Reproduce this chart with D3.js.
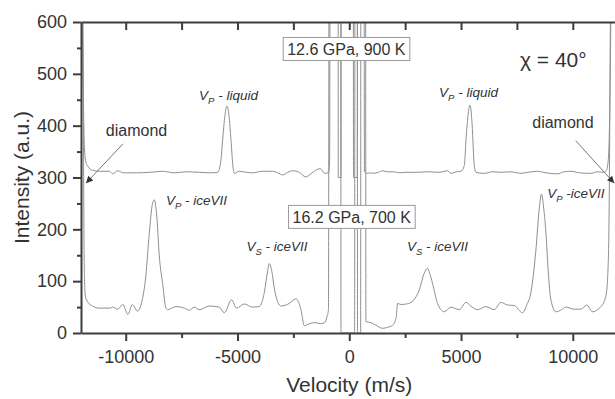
<!DOCTYPE html>
<html>
<head>
<meta charset="utf-8">
<script src="https://cdn.jsdelivr.net/npm/d3@7"></script>
<style>
  body { margin: 0; background: #fff; }
  svg { display: block; font-family: "Liberation Sans", Arial, sans-serif; }
</style>
</head>
<body>
<svg id="chart" width="615" height="399"></svg>
<script>
// spectra: [velocity m/s, intensity a.u.]
const spectrum900K = [
  [-12000, 900], [-11950, 700], [-11900, 480], [-11850, 360], [-11780, 330], [-11700, 322],
  [-11480, 314], [-11180, 312], [-10730, 312], [-10585, 307], [-10360, 313], [-10100, 309],
  [-9500, 309], [-8900, 310], [-8350, 312], [-7800, 309], [-7300, 311], [-6700, 310],
  [-6200, 309], [-5890, 310], [-5750, 330], [-5665, 372], [-5560, 420], [-5470, 438],
  [-5380, 420], [-5290, 372], [-5200, 320], [-5140, 308], [-4920, 312], [-4600, 310],
  [-4325, 309], [-3900, 312], [-3430, 312], [-3200, 309], [-2980, 305], [-2750, 310],
  [-2535, 313], [-2235, 310], [-1940, 301], [-1750, 306], [-1500, 314], [-1300, 317],
  [-1100, 308], [-920, 310], [-880, 330], [-850, 800], [-500, 800], [-490, 300],
  [-370, 300], [-360, 800], [180, 800], [190, 300], [360, 300], [370, 800], [660, 800],
  [680, 311], [800, 308], [900, 309], [1100, 308], [1300, 310], [1500, 313], [1700, 311],
  [2010, 311], [2235, 309], [2500, 310], [3000, 310], [3500, 311], [4000, 310], [4400, 313],
  [4550, 308], [4800, 311], [4995, 312], [5140, 322], [5250, 390], [5400, 440], [5500, 400],
  [5580, 330], [5665, 310], [6040, 308], [6400, 311], [6800, 310], [7200, 311], [7680, 308],
  [8000, 310], [8420, 312], [8800, 309], [9315, 307], [9600, 311], [9915, 312], [10300, 309],
  [10810, 308], [11100, 311], [11400, 310], [11500, 313], [11580, 330], [11650, 420],
  [11700, 600], [11750, 900], [12000, 900]
];

const spectrum700K = [
  [-12000, 900], [-11950, 800], [-11900, 500], [-11870, 200], [-11840, 100], [-11800, 70],
  [-11700, 60], [-11480, 52], [-11200, 48], [-10700, 48], [-10585, 50], [-10360, 46],
  [-10130, 55], [-9900, 36], [-9700, 55], [-9470, 42], [-9300, 57], [-9100, 110],
  [-8950, 190], [-8800, 250], [-8720, 257], [-8600, 220], [-8500, 150], [-8350, 96],
  [-8200, 48], [-8125, 45], [-7750, 51], [-7380, 48], [-7155, 44], [-6930, 50], [-6710, 45],
  [-6260, 52], [-5815, 50], [-5590, 39], [-5265, 64], [-5040, 48], [-4695, 56], [-4325, 50],
  [-4025, 51], [-3800, 78], [-3650, 120], [-3580, 134], [-3460, 118], [-3355, 87],
  [-3200, 60], [-3055, 52], [-2685, 57], [-2385, 66], [-2160, 45], [-2010, 14], [-1790, 18],
  [-1500, 20], [-1300, 18], [-1100, 20], [-1000, 31], [-930, 45], [-900, 800], [-380, 800],
  [-370, 0], [240, 0], [255, 800], [360, 800], [370, 0], [510, 0], [520, 800], [730, 800],
  [745, 22], [970, 20], [1195, 15], [1490, 9], [1715, 11], [1940, 15], [2100, 30],
  [2160, 57], [2310, 55], [2550, 56], [2760, 59], [3130, 83], [3350, 115], [3500, 125],
  [3600, 115], [3725, 96], [3950, 57], [4250, 41], [4550, 50], [4920, 45], [5220, 59],
  [5440, 52], [5740, 45], [6110, 51], [6485, 45], [6785, 59], [7080, 54], [7380, 53],
  [7750, 39], [7950, 55], [8125, 78], [8350, 160], [8500, 240], [8600, 268], [8700, 240],
  [8800, 193], [8900, 120], [9020, 64], [9245, 41], [9500, 45], [9690, 50], [10060, 46],
  [10360, 46], [10630, 54], [10880, 41], [11255, 51], [11480, 71], [11580, 128],
  [11630, 257], [11680, 600], [11720, 900], [12000, 900]
];

const xMajorTicks = [-10000, -5000, 0, 5000, 10000];
const xMinorTicks = [-7500, -2500, 2500, 7500];
const yMajorTicks = [0, 100, 200, 300, 400, 500, 600];
const yMinorTicks = [50, 150, 250, 350, 450, 550];

// annotations, in data coordinates
const conditionLabels = [
  { text: "12.6 GPa, 900 K", v: -130, i: 548 },
  { text: "16.2 GPa, 700 K", v: 110, i: 224 }
];
const peakLabels = [
  { main: "V", sub: "P", rest: " - liquid", v: -5400, i: 449 },
  { main: "V", sub: "P", rest: " - liquid", v: 5335, i: 455 },
  { main: "V", sub: "P", rest: " - iceVII", v: -6830, i: 246 },
  { main: "V", sub: "S", rest: " - iceVII", v: -3230, i: 158 },
  { main: "V", sub: "S", rest: " - iceVII", v: 3950, i: 158 },
  { main: "V", sub: "P", rest: " -iceVII", v: 10140, i: 260 }
];
const diamondLabels = [
  { v: -9515, i: 380, from: [-10120, 365], to: [-11776, 289] },
  { v: 9560, i: 395, from: [10130, 371], to: [11855, 289] }
];

const svg = d3.select("#chart");
const margin = { left: 81, top: 22, bottom: 333, right: 617.5 };

const x = d3.scaleLinear().domain([-12000, 12000]).range([margin.left, margin.right]);
const y = d3.scaleLinear().domain([0, 600]).range([margin.bottom, margin.top]);

const axisColor = "#3d3d3d";
const textColor = "#333";
const lineColor = "#8f8f8f";

svg.append("defs").append("clipPath").attr("id", "plotclip")
  .append("rect")
  .attr("x", margin.left).attr("y", margin.top)
  .attr("width", margin.right - margin.left).attr("height", margin.bottom - margin.top);

svg.append("defs").append("marker")
  .attr("id", "arrowhead")
  .attr("viewBox", "0 0 10 10")
  .attr("refX", 10).attr("refY", 5)
  .attr("markerWidth", 10).attr("markerHeight", 7)
  .attr("markerUnits", "userSpaceOnUse")
  .attr("orient", "auto")
  .append("path").attr("d", "M0,0 L10,5 L0,10 Z").attr("fill", "#333");

const line = d3.line().curve(d3.curveMonotoneX).x(d => x(d[0])).y(d => y(d[1]));

const plot = svg.append("g").attr("clip-path", "url(#plotclip)");
[spectrum900K, spectrum700K].forEach(s => {
  plot.append("path")
    .datum(s)
    .attr("d", line)
    .attr("fill", "none")
    .attr("stroke", lineColor)
    .attr("stroke-width", 1);
});

function styleAxis(g) {
  g.selectAll("path.domain").attr("stroke", axisColor).attr("stroke-width", 2);
  g.selectAll(".tick line").attr("stroke", axisColor).attr("stroke-width", 2);
  g.selectAll(".tick text").attr("fill", textColor).attr("font-size", 18)
    .attr("font-family", "Liberation Sans, Arial, sans-serif");
}

const plain = d => String(d);

// left axis
svg.append("g").attr("transform", `translate(${margin.left},0)`)
  .call(d3.axisLeft(y).tickValues(yMinorTicks).tickSize(4).tickFormat(""))
  .call(g => g.select(".domain").remove())
  .call(styleAxis);
svg.append("g").attr("transform", `translate(${margin.left},0)`)
  .call(d3.axisLeft(y).tickValues(yMajorTicks).tickSize(8).tickSizeOuter(0).tickPadding(6).tickFormat(plain))
  .call(styleAxis);

// bottom axis
svg.append("g").attr("transform", `translate(0,${margin.bottom})`)
  .call(d3.axisBottom(x).tickValues(xMinorTicks).tickSize(5).tickFormat(""))
  .call(g => g.select(".domain").remove())
  .call(styleAxis);
svg.append("g").attr("transform", `translate(0,${margin.bottom})`)
  .call(d3.axisBottom(x).tickValues(xMajorTicks).tickSize(8).tickSizeOuter(0).tickPadding(9).tickFormat(plain))
  .call(styleAxis);

// top axis, ticks pointing in
svg.append("g").attr("transform", `translate(0,${margin.top})`)
  .call(d3.axisBottom(x).tickValues(xMajorTicks.concat(xMinorTicks)).tickSize(8).tickSizeOuter(0).tickFormat(""))
  .call(styleAxis);

// axis titles
svg.append("text")
  .attr("transform", `translate(29,${(margin.top + margin.bottom) / 2}) rotate(-90)`)
  .attr("text-anchor", "middle")
  .attr("font-size", 21).attr("fill", textColor)
  .text("Intensity (a.u.)");
svg.append("text")
  .attr("x", x(0)).attr("y", 392)
  .attr("text-anchor", "middle")
  .attr("font-size", 21).attr("fill", textColor)
  .text("Velocity (m/s)");

// condition boxes
conditionLabels.forEach(c => {
  const g = svg.append("g");
  const t = g.append("text")
    .attr("x", x(c.v)).attr("y", y(c.i) + 6)
    .attr("text-anchor", "middle")
    .attr("font-size", 16).attr("fill", textColor)
    .text(c.text);
  const b = t.node().getBBox();
  g.insert("rect", "text")
    .attr("x", b.x - 4).attr("y", y(c.i) - 11.5)
    .attr("width", b.width + 8).attr("height", 23)
    .attr("fill", "#fff").attr("stroke", "#9a9a9a").attr("stroke-width", 1);
});

// chi label
svg.append("text")
  .attr("x", x(7635)).attr("y", y(513))
  .attr("font-size", 21).attr("fill", textColor)
  .text("χ = 40°");

// peak labels
peakLabels.forEach(p => {
  const t = svg.append("text")
    .attr("x", x(p.v)).attr("y", y(p.i))
    .attr("text-anchor", "middle")
    .attr("font-size", 13.5).attr("font-style", "italic").attr("fill", textColor);
  t.append("tspan").text(p.main);
  t.append("tspan").attr("font-size", 9.5).attr("dy", 4).text(p.sub);
  t.append("tspan").attr("dy", -4).text(p.rest);
});

// diamond labels with arrows
diamondLabels.forEach(d => {
  svg.append("text")
    .attr("x", x(d.v)).attr("y", y(d.i))
    .attr("text-anchor", "middle")
    .attr("font-size", 16).attr("fill", textColor)
    .text("diamond");
  svg.append("line")
    .attr("x1", x(d.from[0])).attr("y1", y(d.from[1]))
    .attr("x2", x(d.to[0])).attr("y2", y(d.to[1]))
    .attr("stroke", "#777").attr("stroke-width", 1)
    .attr("marker-end", "url(#arrowhead)");
});
</script>
</body>
</html>
